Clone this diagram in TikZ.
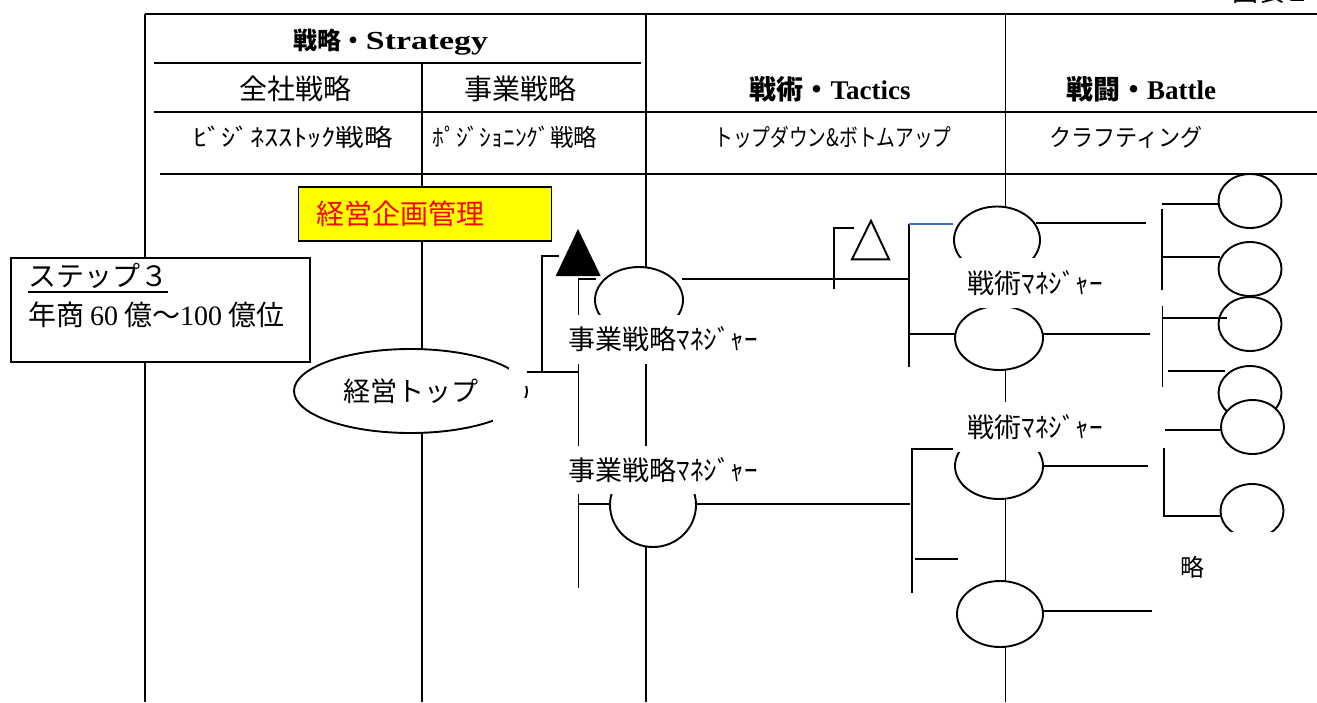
\documentclass[tikz,border=0pt]{standalone}
\usepackage{fontspec}
\usepackage{graphicx}
\setmainfont{Noto Sans CJK JP}
\newfontfamily\lat{Liberation Serif}
\usetikzlibrary{shapes.geometric}
\definecolor{linkblue}{HTML}{4472C4}
\definecolor{hiyellow}{HTML}{FFFF00}
\definecolor{hired}{HTML}{FF0000}
\tikzset{
  ln/.style={line width=1.9pt},
  oval/.style={ellipse, draw, fill=white, inner sep=0pt, line width=1.9pt},
  lbl/.style={fill=white, inner sep=0pt, font=\fontsize{27}{32}\selectfont},
  mask/.style={fill=white, draw=none},
  hdr/.style={inner sep=0pt, font=\fontsize{28}{32}\selectfont},
  sub/.style={inner sep=0pt, font=\fontsize{24}{28}\selectfont},
  body/.style={inner sep=0pt, font=\fontsize{28}{32}\selectfont},
}
\begin{document}
\begin{tikzpicture}[x=1pt,y=-1pt]
\useasboundingbox (0,0) rectangle (1317,702);
\clip (0,0) rectangle (1317,702);

% table frame
\draw[ln] (145,14) -- (1317,14);
\draw[ln] (154,63) -- (641,63);
\draw[ln] (154,112) -- (1317,112);
\draw[ln] (160,174) -- (1317,174);
\draw[ln] (145,14) -- (145,702);
\draw[ln] (422,64) -- (422,702);
\draw[ln] (646,14) -- (646,702);
\draw[ln] (1005.5,14) -- (1005.5,702);

% connectors (strategy / tactics)
\draw[ln] (541.7,371.7) -- (541.7,256) -- (559,256);
\draw[ln] (596,279) -- (578.5,279) -- (578.5,588);
\draw[ln] (682,279) -- (909,279);
\draw[ln] (854,228) -- (834,228) -- (834,289);
\draw[ln] (909,224) -- (909,367);
\draw[ln] (909,334) -- (955,334);
\draw[ln] (1036,223.3) -- (1146,223.3);
\draw[ln] (1042,334) -- (1150,334);
\draw[ln] (578.5,504) -- (610,504);
\draw[ln] (696,504) -- (910,504);
\draw[ln] (953,449.3) -- (911.7,449.3) -- (911.7,593);
\draw[ln] (915,559) -- (958,559);
\draw[ln] (1042,466) -- (1148,466);
\draw[ln] (1043,611) -- (1152,611);
% battle brackets
\draw[ln] (1162,209) -- (1162,290);
\draw[ln] (1162,204) -- (1220,204);
\draw[ln] (1162,257) -- (1220,257);
\draw[ln] (1162.5,306) -- (1162.5,387);
\draw[ln] (1168,371) -- (1225,371);
\draw[ln] (1165,430) -- (1221,430);
\draw[ln] (1164,448) -- (1164,516) -- (1221,516);

% ovals
\node[oval, minimum width=88pt, minimum height=66pt] (B1) at (639,300) {};
\node[oval, minimum width=86pt, minimum height=84pt] (B2) at (653,505) {};
\node[oval, minimum width=86pt, minimum height=67pt] (T1) at (997,240) {};
\node[oval, minimum width=88pt, minimum height=64pt] (T2) at (999,338) {};
\node[oval, minimum width=88pt, minimum height=66pt] (T3) at (999,466) {};
\node[oval, minimum width=86pt, minimum height=66pt] (T4) at (1000,614) {};
\node[oval, minimum width=63pt, minimum height=54pt] (C1) at (1250,201) {};
\node[oval, minimum width=63pt, minimum height=54pt] (C2) at (1250,269) {};
\node[oval, minimum width=63pt, minimum height=54pt] (C3) at (1250,324) {};
\node[oval, minimum width=63pt, minimum height=54pt] (C4) at (1250,393) {};
\node[oval, minimum width=63pt, minimum height=54pt] (C5) at (1252.5,427) {};
\node[oval, minimum width=63pt, minimum height=54pt] (C6) at (1252,511) {};
\node[oval, minimum width=233pt, minimum height=84pt, font=\fontsize{27}{32}\selectfont] (ceo) at (410.5,391) {経営トップ};

% header texts
\node[inner sep=0pt] (hStrat) at (391,42) {\fontsize{24}{28}\selectfont\bfseries 戦略・{\lat\fontsize{26}{28}\selectfont\bfseries\scalebox{1.3}[1]{Strategy}}};
\node[hdr] (hCorp) at (295,89) {全社戦略};
\node[hdr] (hBiz) at (520,89) {事業戦略};
\node[inner sep=0pt] (hTac) at (830,89) {\fontsize{27}{30}\selectfont\bfseries 戦術・{\lat\bfseries Tactics}};
\node[inner sep=0pt] (hBat) at (1141,89) {\fontsize{27}{30}\selectfont\bfseries 戦闘・{\lat\bfseries Battle}};
\node[sub] (sCorp) at (293,137) {\scalebox{1.19}[1]{ﾋﾞｼﾞﾈｽｽﾄｯｸ戦略}};
\node[sub] (sBiz) at (515,137) {\scalebox{0.98}[1]{ﾎﾟｼﾞｼｮﾆﾝｸﾞ戦略}};
\node[sub] (sTac) at (833,137) {\scalebox{0.78}[1]{トップダウン\&ボトムアップ}};
\node[sub] (sBat) at (1126,137) {\scalebox{0.92}[1]{クラフティング}};

% yellow box
\node[draw, fill=hiyellow, line width=1.9pt, minimum height=54pt, text width=217pt,
      inner xsep=18pt, inner ysep=0pt, align=left, text=hired,
      font=\fontsize{28}{32}\selectfont] (plan) at (425,214) {経営企画管理};

% step box
\node[draw, fill=white, line width=1.9pt, minimum width=299pt, minimum height=104pt,
      anchor=north west, inner sep=0pt] (stepbox) at (10,257) {};
\node[body, anchor=west] (steptitle) at (28,276) {ステップ３};
\draw[line width=1.6pt] ([yshift=-3pt]steptitle.south west) -- ([yshift=-3pt]steptitle.south east);
\node[body, anchor=west] (steprev) at (28,315) {年商\hspace{6pt}{\lat 60}\hspace{6pt}億～{\lat 100}\hspace{6pt}億位};

% manager labels
\node[lbl, minimum width=214pt, minimum height=49pt] (mgrA) at (663,339.5) {事業戦略ﾏﾈｼﾞｬｰ};
\node[lbl, minimum width=214pt, minimum height=48pt] (mgrB) at (663,470) {事業戦略ﾏﾈｼﾞｬｰ};
\node[lbl, minimum width=160pt, minimum height=50pt] (tacA) at (1035,283) {戦術ﾏﾈｼﾞｬｰ};
\node[lbl, minimum width=160pt, minimum height=50pt] (tacB) at (1035,427) {戦術ﾏﾈｼﾞｬｰ};
\node[inner sep=0pt, font=\fontsize{24}{28}\selectfont] (omit) at (1192,567) {略};
\node[inner sep=0pt, font=\fontsize{26}{30}\selectfont, anchor=base] (figno) at (1271,1) {図表２};

% gaps in outlines
\fill[mask] (509,360) rectangle (534,386);
\fill[mask] (493,398) rectangle (534,440);
\fill[mask] (1215,532) rectangle (1290,545);

% lines lying over shapes
\draw[ln] (526.7,371.7) -- (578,371.7);
\draw[ln] (1162.5,318) -- (1227,318);
\draw[ln, linkblue] (909,224) -- (953,224);

% triangles
\fill (578,229) -- (600.7,276) -- (555.7,276) -- cycle;
\draw[ln, line join=miter] (871,220.7) -- (889,259.3) -- (852,259.3) -- cycle;
\end{tikzpicture}
\end{document}
